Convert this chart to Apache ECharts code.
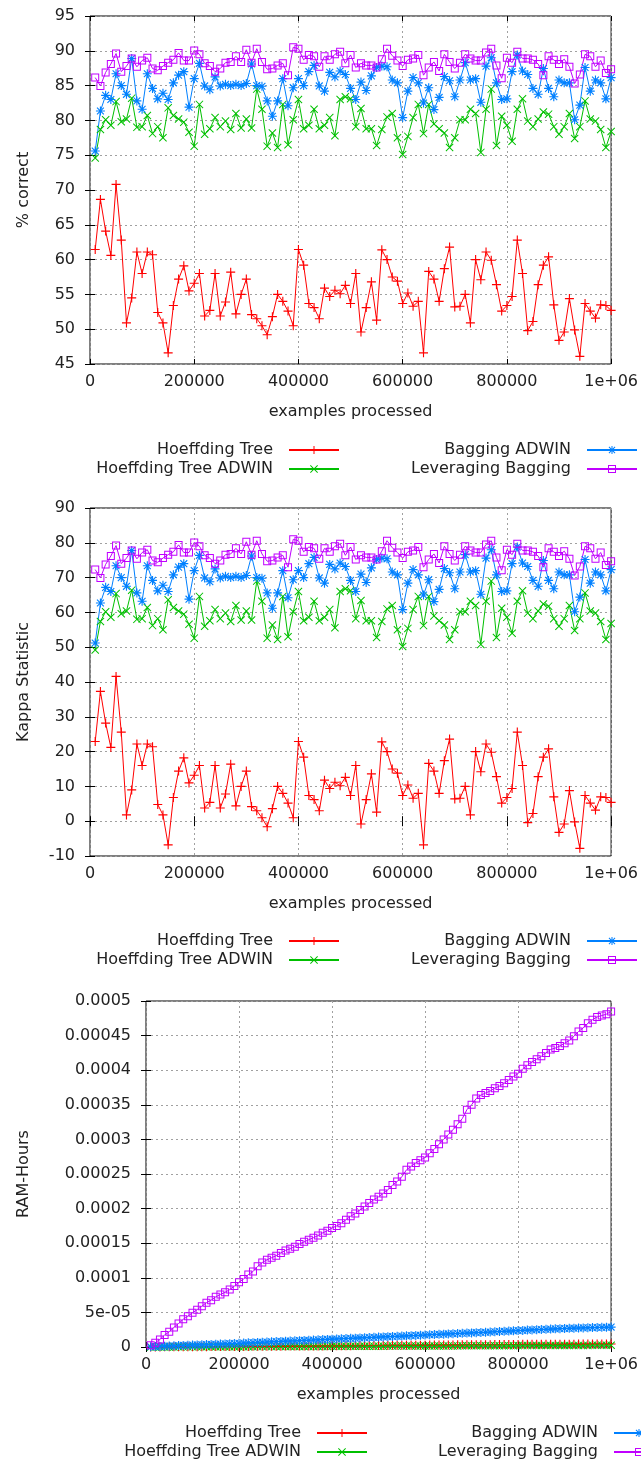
<!DOCTYPE html>
<html>
<head>
<meta charset="utf-8">
<script src="https://cdn.jsdelivr.net/npm/echarts@6/dist/echarts.min.js"></script>
<style>
  html, body { margin: 0; padding: 0; background: #fff; }
  #chart { width: 641px; height: 1464px; }
</style>
</head>
<body>
<div id="chart"></div>
<script>
// evaluation checkpoints: every 10000 examples
var examples = [];
for (var i = 1; i <= 100; i++) examples.push(i * 10000);

var names = ['Hoeffding Tree', 'Hoeffding Tree ADWIN', 'Bagging ADWIN', 'Leveraging Bagging'];
var xTicks = [0, 200000, 400000, 600000, 800000, 1000000];

// % correct
var accHT = [61.45, 68.65, 64.1, 60.6, 70.8, 62.8, 50.9, 54.5, 61.1, 58.0,
  61.1, 60.7, 52.4, 50.9, 46.6, 53.4, 57.2, 59.1, 55.5, 56.6,
  58.0, 51.9, 52.7, 58.0, 51.9, 53.9, 58.2, 52.2, 55.0, 57.2,
  52.1, 51.5, 50.5, 49.2, 51.8, 55.0, 54.0, 52.6, 50.5, 61.45,
  59.2, 53.7, 53.1, 51.5, 55.9, 54.7, 55.6, 55.1, 56.3, 53.7,
  58.0, 49.6, 53.1, 56.8, 51.3, 61.4, 60.0, 57.5, 56.9, 53.7,
  55.2, 53.3, 54.0, 46.6, 58.3, 57.2, 54.0, 58.7, 61.8, 53.2,
  53.3, 55.0, 50.9, 60.0, 57.1, 61.1, 59.9, 56.4, 52.6, 53.4,
  54.7, 62.8, 58.0, 49.8, 51.1, 56.4, 59.2, 60.4, 53.5, 48.4,
  49.6, 54.4, 49.9, 46.1, 53.7, 52.6, 51.6, 53.5, 53.4, 52.7];
var accHTA = [74.6, 78.7, 80.1, 79.3, 82.7, 79.8, 80.2, 83.2, 79.0, 79.1,
  80.7, 78.1, 79.1, 77.5, 81.8, 80.7, 80.2, 79.75, 78.3, 76.3,
  82.3, 78.0, 78.8, 80.4, 79.1, 79.9, 78.7, 81.0, 78.9, 80.2,
  78.9, 84.5, 81.6, 76.3, 78.2, 76.1, 82.3, 76.5, 80.1, 83.0,
  78.8, 79.3, 81.6, 78.8, 79.3, 80.4, 77.8, 83.0, 83.4, 83.1,
  79.1, 81.7, 78.8, 78.8, 76.4, 78.7, 80.5, 81.0, 77.5, 75.1,
  77.7, 80.4, 82.3, 78.1, 82.3, 79.5, 78.8, 78.2, 76.1, 77.5,
  80.1, 80.1, 81.6, 81.0, 75.4, 81.6, 84.5, 76.4, 80.6, 79.3,
  77.0, 81.6, 83.1, 79.9, 79.1, 80.2, 81.2, 80.9, 79.1, 78.0,
  79.1, 81.0, 77.4, 79.1, 82.8, 80.2, 79.9, 78.7, 76.1, 78.4];
var accBag = [75.6, 81.35, 83.6, 83.0, 86.7, 85.0, 83.75, 88.9, 82.8, 81.6,
  86.7, 84.6, 83.1, 83.9, 83.0, 85.4, 86.5, 87.0, 81.9, 86.0,
  88.2, 84.95, 84.4, 86.25, 84.95, 85.2, 85.0, 85.2, 85.0, 85.3,
  88.1, 85.0, 84.9, 82.8, 80.6, 82.8, 86.0, 82.1, 84.7, 86.0,
  85.0, 87.0, 87.9, 84.95, 84.2, 86.9, 86.25, 87.1, 86.6, 84.6,
  83.0, 85.5, 84.3, 86.4, 87.6, 87.8, 87.7, 85.8, 85.4, 80.4,
  84.2, 86.15, 85.4, 82.5, 84.7, 81.55, 83.3, 86.3, 85.7, 83.4,
  85.8, 88.3, 85.8, 86.0, 82.6, 87.8, 89.0, 85.4, 83.0, 83.1,
  87.0, 89.4, 87.1, 86.6, 84.6, 83.75, 87.45, 84.6, 83.4, 85.8,
  85.4, 85.4, 80.1, 82.2, 87.6, 84.2, 85.8, 85.4, 83.1, 86.15];
var accLev = [86.15, 84.95, 86.9, 88.1, 89.6, 87.0, 87.8, 88.9, 87.7, 88.6,
  89.0, 87.45, 87.2, 87.8, 88.3, 88.7, 89.7, 88.6, 88.6, 90.05,
  89.5, 88.2, 87.8, 87.0, 87.45, 88.3, 88.4, 89.2, 88.4, 90.15,
  88.3, 90.3, 88.4, 87.35, 87.45, 87.9, 88.2, 86.5, 90.5, 90.3,
  88.7, 89.4, 89.2, 87.7, 89.2, 88.7, 89.5, 89.85, 88.2, 89.4,
  87.6, 88.2, 87.9, 87.9, 87.6, 88.8, 90.3, 89.3, 88.6, 87.8,
  88.7, 88.9, 89.4, 86.5, 87.6, 88.4, 87.1, 89.5, 88.4, 87.45,
  88.3, 89.5, 88.9, 88.6, 88.6, 89.75, 90.3, 87.9, 86.05, 89.0,
  88.3, 89.85, 88.9, 88.9, 88.7, 88.1, 86.5, 89.2, 88.7, 88.1,
  88.8, 87.7, 85.3, 86.6, 89.5, 89.2, 87.7, 88.6, 86.8, 87.35];

// Kappa statistic
var kapHT = [22.9, 37.3, 28.2, 21.2, 41.6, 25.6, 1.8, 9.0, 22.2, 16.0,
  22.2, 21.4, 4.8, 1.8, -6.8, 6.8, 14.4, 18.2, 11.0, 13.2,
  16.0, 3.8, 5.4, 16.0, 3.8, 7.8, 16.4, 4.4, 10.0, 14.4,
  4.2, 3.0, 1.0, -1.6, 3.6, 10.0, 8.0, 5.2, 1.0, 22.9,
  18.4, 7.4, 6.2, 3.0, 11.8, 9.4, 11.2, 10.2, 12.6, 7.4,
  16.0, -0.8, 6.2, 13.6, 2.6, 22.8, 20.0, 15.0, 13.8, 7.4,
  10.4, 6.6, 8.0, -6.8, 16.6, 14.4, 8.0, 17.4, 23.6, 6.4,
  6.6, 10.0, 1.8, 20.0, 14.2, 22.2, 19.8, 12.8, 5.2, 6.8,
  9.4, 25.6, 16.0, -0.4, 2.2, 12.8, 18.4, 20.8, 7.0, -3.2,
  -0.8, 8.8, -0.2, -7.8, 7.4, 5.2, 3.2, 7.0, 6.8, 5.4];
var kapHTA = [49.2, 57.4, 60.2, 58.6, 65.4, 59.6, 60.4, 66.4, 58.0, 58.2,
  61.4, 56.2, 58.2, 55.0, 63.6, 61.4, 60.4, 59.5, 56.6, 52.6,
  64.6, 56.0, 57.6, 60.8, 58.2, 59.8, 57.4, 62.0, 57.8, 60.4,
  57.8, 69.0, 63.2, 52.6, 56.4, 52.2, 64.6, 53.0, 60.2, 66.0,
  57.6, 58.6, 63.2, 57.6, 58.6, 60.8, 55.6, 66.0, 66.8, 66.2,
  58.2, 63.4, 57.6, 57.6, 52.8, 57.4, 61.0, 62.0, 55.0, 50.2,
  55.4, 60.8, 64.6, 56.2, 64.6, 59.0, 57.6, 56.4, 52.2, 55.0,
  60.2, 60.2, 63.2, 62.0, 50.8, 63.2, 69.0, 52.8, 61.2, 58.6,
  54.0, 63.2, 66.2, 59.8, 58.2, 60.4, 62.4, 61.8, 58.2, 56.0,
  58.2, 62.0, 54.8, 58.2, 65.6, 60.4, 59.8, 57.4, 52.2, 56.8];
var kapBag = [51.2, 62.7, 67.2, 66.0, 73.4, 70.0, 67.5, 77.8, 65.6, 63.2,
  73.4, 69.2, 66.2, 67.8, 66.0, 70.8, 73.0, 74.0, 63.8, 72.0,
  76.4, 69.9, 68.8, 72.5, 69.9, 70.4, 70.0, 70.4, 70.0, 70.6,
  76.2, 70.0, 69.8, 65.6, 61.2, 65.6, 72.0, 64.2, 69.4, 72.0,
  70.0, 74.0, 75.8, 69.9, 68.4, 73.8, 72.5, 74.2, 73.2, 69.2,
  66.0, 71.0, 68.6, 72.8, 75.2, 75.6, 75.4, 71.6, 70.8, 60.8,
  68.4, 72.3, 70.8, 65.0, 69.4, 63.1, 66.6, 72.6, 71.4, 66.8,
  71.6, 76.6, 71.6, 72.0, 65.2, 75.6, 78.0, 70.8, 66.0, 66.2,
  74.0, 78.8, 74.2, 73.2, 69.2, 67.5, 74.9, 69.2, 66.8, 71.6,
  70.8, 70.8, 60.2, 64.4, 75.2, 68.4, 71.6, 70.8, 66.2, 72.3];
var kapLev = [72.3, 69.9, 73.8, 76.2, 79.2, 74.0, 75.6, 77.8, 75.4, 77.2,
  78.0, 74.9, 74.4, 75.6, 76.6, 77.4, 79.4, 77.2, 77.2, 80.1,
  79.0, 76.4, 75.6, 74.0, 74.9, 76.6, 76.8, 78.4, 76.8, 80.3,
  76.6, 80.6, 76.8, 74.7, 74.9, 75.8, 76.4, 73.0, 81.0, 80.6,
  77.4, 78.8, 78.4, 75.4, 78.4, 77.4, 79.0, 79.7, 76.4, 78.8,
  75.2, 76.4, 75.8, 75.8, 75.2, 77.6, 80.6, 78.6, 77.2, 75.6,
  77.4, 77.8, 78.8, 73.0, 75.2, 76.8, 74.2, 79.0, 76.8, 74.9,
  76.6, 79.0, 77.8, 77.2, 77.2, 79.5, 80.6, 75.8, 72.1, 78.0,
  76.6, 79.7, 77.8, 77.8, 77.4, 76.2, 73.0, 78.4, 77.4, 76.2,
  77.6, 75.4, 70.6, 73.2, 79.0, 78.4, 75.4, 77.2, 73.6, 74.7];

// RAM-Hours, written in units of 1e-5
var ramHT = [0.00, 0.01, 0.01, 0.02, 0.02, 0.02, 0.03, 0.03, 0.04, 0.04,
  0.04, 0.05, 0.05, 0.06, 0.06, 0.07, 0.07, 0.07, 0.08, 0.08,
  0.09, 0.09, 0.10, 0.10, 0.10, 0.11, 0.11, 0.12, 0.12, 0.13,
  0.13, 0.13, 0.14, 0.14, 0.15, 0.15, 0.16, 0.16, 0.17, 0.17,
  0.18, 0.18, 0.19, 0.19, 0.20, 0.20, 0.21, 0.21, 0.22, 0.22,
  0.23, 0.23, 0.24, 0.24, 0.25, 0.25, 0.26, 0.26, 0.27, 0.27,
  0.28, 0.28, 0.29, 0.29, 0.30, 0.30, 0.31, 0.31, 0.32, 0.32,
  0.33, 0.33, 0.34, 0.34, 0.35, 0.35, 0.36, 0.36, 0.37, 0.37,
  0.38, 0.38, 0.38, 0.39, 0.39, 0.39, 0.40, 0.40, 0.40, 0.41,
  0.41, 0.41, 0.42, 0.42, 0.42, 0.43, 0.43, 0.43, 0.44, 0.44];
var ramHTA = [0.00, 0.00, 0.01, 0.01, 0.01, 0.01, 0.02, 0.02, 0.02, 0.02,
  0.02, 0.03, 0.03, 0.03, 0.03, 0.04, 0.04, 0.04, 0.04, 0.05,
  0.05, 0.05, 0.05, 0.06, 0.06, 0.06, 0.06, 0.07, 0.07, 0.07,
  0.07, 0.08, 0.08, 0.08, 0.08, 0.09, 0.09, 0.09, 0.09, 0.10,
  0.10, 0.10, 0.10, 0.11, 0.11, 0.11, 0.11, 0.12, 0.12, 0.12,
  0.12, 0.13, 0.13, 0.13, 0.13, 0.14, 0.14, 0.14, 0.14, 0.15,
  0.15, 0.15, 0.15, 0.16, 0.16, 0.16, 0.16, 0.17, 0.17, 0.17,
  0.17, 0.18, 0.18, 0.18, 0.18, 0.19, 0.19, 0.19, 0.19, 0.20,
  0.20, 0.20, 0.20, 0.21, 0.21, 0.21, 0.21, 0.22, 0.22, 0.22,
  0.22, 0.23, 0.23, 0.23, 0.23, 0.24, 0.24, 0.24, 0.24, 0.25];
var ramBag = [0.03, 0.06, 0.09, 0.12, 0.15, 0.17, 0.20, 0.23, 0.26, 0.28,
  0.30, 0.33, 0.35, 0.37, 0.40, 0.42, 0.45, 0.48, 0.50, 0.53,
  0.57, 0.60, 0.63, 0.66, 0.69, 0.72, 0.75, 0.78, 0.81, 0.84,
  0.87, 0.89, 0.92, 0.95, 0.98, 1.01, 1.04, 1.07, 1.10, 1.13,
  1.16, 1.19, 1.22, 1.25, 1.28, 1.31, 1.34, 1.37, 1.40, 1.43,
  1.46, 1.49, 1.52, 1.55, 1.58, 1.61, 1.64, 1.67, 1.70, 1.74,
  1.77, 1.80, 1.83, 1.86, 1.89, 1.92, 1.95, 1.98, 2.01, 2.04,
  2.07, 2.10, 2.13, 2.16, 2.20, 2.24, 2.27, 2.30, 2.34, 2.37,
  2.40, 2.44, 2.47, 2.50, 2.53, 2.56, 2.59, 2.62, 2.65, 2.68,
  2.70, 2.72, 2.74, 2.76, 2.78, 2.80, 2.82, 2.84, 2.86, 2.88];
var ramLev = [0.24, 0.62, 1.1, 1.73, 2.2, 2.83, 3.4, 4.0, 4.46, 4.94,
  5.4, 5.9, 6.4, 6.77, 7.25, 7.6, 7.9, 8.3, 8.8, 9.36,
  9.84, 10.46, 10.9, 11.66, 12.2, 12.6, 12.9, 13.2, 13.6, 13.96,
  14.2, 14.5, 14.9, 15.2, 15.5, 15.8, 16.1, 16.5, 16.8, 17.2,
  17.5, 17.9, 18.4, 18.9, 19.3, 19.8, 20.3, 20.8, 21.3, 21.7,
  22.2, 22.7, 23.4, 23.9, 24.6, 25.6, 26.1, 26.6, 27.0, 27.4,
  28.0, 28.6, 29.3, 30.0, 30.7, 31.4, 32.2, 33.0, 34.3, 35.0,
  35.9, 36.4, 36.7, 37.0, 37.4, 37.7, 38.1, 38.6, 39.1, 39.5,
  40.2, 40.7, 41.2, 41.6, 42.0, 42.5, 43.0, 43.2, 43.5, 43.9,
  44.3, 44.9, 45.6, 46.1, 46.8, 47.3, 47.7, 47.9, 48.1, 48.5];

var colors = ['#ff0000', '#00c000', '#0080ff', '#c000ff'];
var symbols = [
  'path://M3.5,0H4.5V8H3.5Z M0,3.5H8V4.5H0Z',
  'path://M0,0.7L0.7,0L8,7.3L7.3,8Z M7.3,0L8,0.7L0.7,8L0,7.3Z',
  'path://M3.5,0H4.5V8H3.5Z M0,3.5H8V4.5H0Z M0.6,1.3L1.3,0.6L7.4,6.7L6.7,7.4Z M6.7,0.6L7.4,1.3L1.3,7.4L0.6,6.7Z',
  'path://M0,0H8V8H0Z M1,1V7H7V1Z'
];
var symbolSizes = [9, 8, 9, 8];

var font = 'DejaVu Sans';
var ink = '#222';

function gfmt(v) {
  if (v === 0) return '0';
  var e = Math.floor(Math.log10(Math.abs(v)) + 1e-9);
  if (e < -4) {
    var m = +(v / Math.pow(10, e)).toPrecision(6);
    return m + 'e-' + (-e < 10 ? '0' : '') + (-e);
  }
  return String(+v.toPrecision(6));
}
function xfmt(v) {
  return v >= 1000000 ? '1e+06' : String(v);
}

var grids = [
  { left: 90, top: 16, width: 525, height: 348 },
  { left: 90, top: 508, width: 525, height: 348 },
  { left: 146, top: 1001, width: 469, height: 346 }
];
var yRanges = [
  { min: 45, max: 95, interval: 5, title: '% correct', gap: 58, fmt: null },
  { min: -10, max: 90, interval: 10, title: 'Kappa Statistic', gap: 58, fmt: null },
  { min: 0, max: 0.0005, interval: 0.00005, title: 'RAM-Hours', gap: 114, fmt: gfmt }
];
var panels = [
  [accHT, accHTA, accBag, accLev],
  [kapHT, kapHTA, kapBag, kapLev],
  [ramHT, ramHTA, ramBag, ramLev].map(function (a) {
    return a.map(function (v) { return v * 1e-5; });
  })
];
var legendPos = [
  { top: 442, r1: 301, r2: 3 },
  { top: 933, r1: 301, r2: 3 },
  { top: 1425, r1: 273, r2: -24 }
];

var xAxes = [], yAxes = [], series = [], legends = [];
var dotted = { show: true, lineStyle: { color: '#a0a0a0', width: 1, type: [2, 3] } };
var tick = { show: true, inside: true, length: 5, lineStyle: { color: '#000', width: 1 } };

grids.forEach(function (g, gi) {
  xAxes.push({
    type: 'value', gridIndex: gi, min: 0, max: 1000000, interval: 200000,
    axisLine: { show: false }, axisTick: tick, splitLine: dotted,
    axisLabel: { fontSize: 16, color: ink, fontFamily: font, margin: 10, formatter: xfmt },
    name: 'examples processed', nameLocation: 'middle', nameGap: 40,
    nameTextStyle: { fontSize: 16, color: ink, fontFamily: font, lineHeight: 16 }
  });
  var yr = yRanges[gi];
  yAxes.push({
    type: 'value', gridIndex: gi, min: yr.min, max: yr.max, interval: yr.interval,
    axisLine: { show: false }, axisTick: tick, splitLine: dotted,
    axisLabel: { fontSize: 16, color: ink, fontFamily: font, margin: 15, formatter: yr.fmt || undefined },
    name: yr.title, nameLocation: 'middle', nameGap: yr.gap,
    nameTextStyle: { fontSize: 16, color: ink, fontFamily: font, lineHeight: 16 }
  });
});
grids.forEach(function (g, gi) {
  xAxes.push({
    type: 'value', gridIndex: gi, position: 'top', min: 0, max: 1000000, interval: 200000,
    axisLine: { show: false }, axisTick: tick, axisLabel: { show: false }, splitLine: { show: false }
  });
  var yr = yRanges[gi];
  yAxes.push({
    type: 'value', gridIndex: gi, position: 'right', min: yr.min, max: yr.max, interval: yr.interval,
    axisLine: { show: false }, axisTick: tick, axisLabel: { show: false }, splitLine: { show: false }
  });
});

panels.forEach(function (sets, gi) {
  sets.forEach(function (vals, si) {
    series.push({
      type: 'line', name: names[si], xAxisIndex: gi, yAxisIndex: gi,
      data: vals.map(function (v, i) { return [examples[i], v]; }),
      symbol: symbols[si], symbolSize: symbolSizes[si], showSymbol: true,
      lineStyle: { color: colors[si], width: 1 },
      itemStyle: { color: colors[si] },
      emphasis: { disabled: true },
      animation: false
    });
  });
  var lp = legendPos[gi];
  var base = {
    orient: 'vertical', align: 'right', top: lp.top, padding: 0,
    itemWidth: 50, itemHeight: 10, itemGap: 3, selectedMode: false,
    textStyle: { fontSize: 16, color: ink, fontFamily: font, lineHeight: 16, padding: [0, 11, 0, 0] }
  };
  legends.push(Object.assign({}, base, { right: lp.r1, data: [names[0], names[1]] }));
  legends.push(Object.assign({}, base, { right: lp.r2, data: [names[2], names[3]] }));
});

var chart = echarts.init(document.getElementById('chart'));
chart.setOption({
  backgroundColor: '#fff',
  animation: false,
  textStyle: { fontFamily: font },
  grid: grids.map(function (g) {
    return Object.assign({ show: true, borderColor: '#000', borderWidth: 1, backgroundColor: 'transparent' }, g);
  }),
  xAxis: xAxes,
  yAxis: yAxes,
  legend: legends,
  series: series
});
</script>
</body>
</html>
